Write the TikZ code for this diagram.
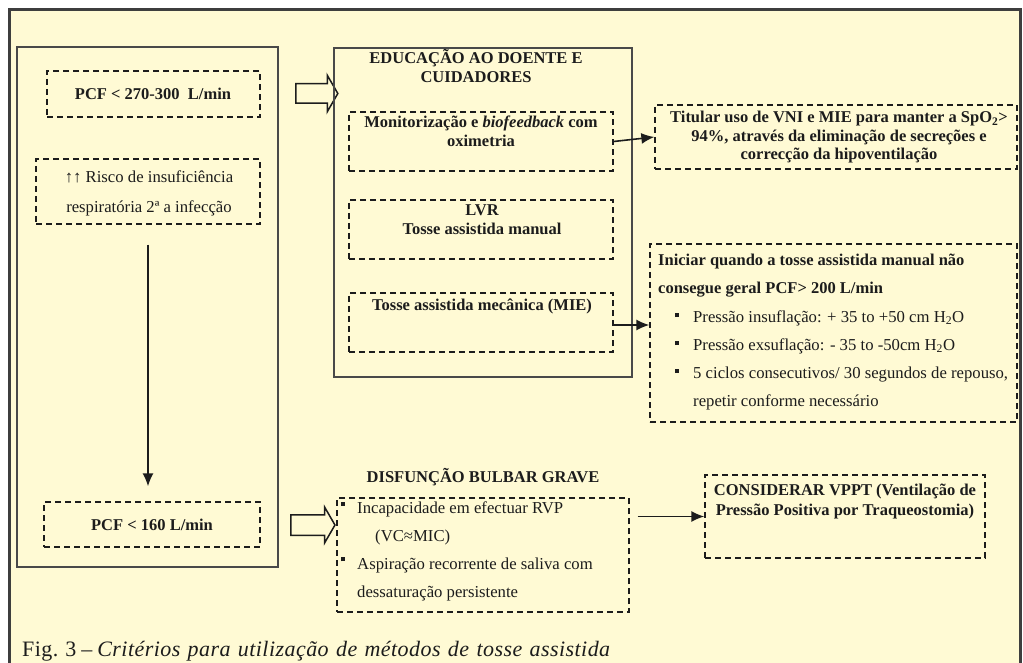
\documentclass[tikz,border=0pt]{standalone}
\usepackage{fontspec}
\setmainfont{Liberation Serif}
\newfontfamily\capfont[LetterSpace=2]{Liberation Serif}
\usetikzlibrary{arrows.meta,shapes.arrows}
\definecolor{bg}{HTML}{FFFAD4}
\definecolor{ink}{HTML}{1C1C1C}
\newcommand{\sqb}{\rule[5pt]{4pt}{4pt}}
\newcommand{\sqs}{\rule[8pt]{4pt}{4pt}}
\tikzset{
  frameline/.style={draw=ink!85, line width=3pt},
  solidbox/.style={draw=ink!80, line width=1.5pt, inner sep=0pt},
  dbox/.style={draw=ink, line width=1.3pt, dash pattern=on 6pt off 4pt, inner sep=0pt},
  bold/.style={font=\fontsize{16.5}{19}\selectfont\bfseries, text=ink, inner sep=0pt, align=center},
  plain/.style={font=\fontsize{16.7}{28}\selectfont, text=ink, inner sep=0pt, align=left},
  arr/.style={-{Latex[length=13pt,width=11pt]}, line width=1.6pt, draw=ink},
  hollow/.style={shape=single arrow, draw=ink, line width=1.5pt, fill=bg, inner xsep=0pt,
    single arrow tip angle=120},
}
\begin{document}
\begin{tikzpicture}[x=1pt,y=-1pt]
\useasboundingbox (0,0) rectangle (1023,663);
\fill[white] (0,0) rectangle (1023,663);
\fill[bg] (9,10) rectangle (1020,663);
\draw[frameline] (9,663) -- (9,10) -- (1020,10) -- (1020,663);

% left column
\node[solidbox, minimum width=261pt, minimum height=520pt] (lbox) at (147.5,307) {};
\node[dbox, minimum width=213pt, minimum height=46pt] (pcf1) at (153.5,94) {};
\node[bold, anchor=base] (pcf1t) at (153,100) {PCF < 270-300\ \ L/min};
\node[dbox, minimum width=224pt, minimum height=65pt] (risco) at (148,191.5) {};
\node[plain, align=center, font=\fontsize{16.7}{30}\selectfont, anchor=base] (riscot) at (149,213) {↑↑ Risco de insuficiência\\respiratória 2ª a infecção};
\node[dbox, minimum width=216pt, minimum height=45pt] (pcf2) at (152,524.5) {};
\node[bold, anchor=base] (pcf2t) at (152,530) {PCF < 160 L/min};
\draw[arr, shorten <=20pt, shorten >=15pt] (risco.south) -- (risco.south |- pcf2.north);

% hollow arrows
\node[hollow, minimum height=42pt, inner ysep=9pt, single arrow head extend=8.5pt] (h1) at (314,93.5) {};
\node[hollow, minimum height=44pt, inner ysep=9.5pt, single arrow head extend=7.5pt] (h2) at (310,525) {};

% middle box
\node[solidbox, minimum width=298pt, minimum height=329pt] (mbox) at (483,212.5) {};
\node[bold, anchor=base] (edu) at (476,83) {EDUCAÇÃO AO DOENTE E\\CUIDADORES};
\node[dbox, minimum width=264pt, minimum height=59pt] (mon) at (481,141.5) {};
\node[bold, anchor=base] (mont) at (481,147) {Monitorização e \textit{biofeedback} com\\oximetria};
\node[dbox, minimum width=264pt, minimum height=59pt] (lvr) at (481,229.5) {};
\node[bold, anchor=base] (lvrt) at (482,235) {LVR\\Tosse assistida manual};
\node[dbox, minimum width=264pt, minimum height=59pt] (mie) at (481,322.5) {};
\node[bold, anchor=base] (miet) at (482,310) {Tosse assistida mecânica (MIE)};

% right column
\node[dbox, minimum width=362pt, minimum height=64pt] (tit) at (836,137) {};
\node[bold, font=\fontsize{16.5}{18.5}\selectfont\bfseries, anchor=base] (titt) at (839,160) {Titular uso de VNI e MIE para manter a SpO\textsubscript{2}>\\94\%, através da eliminação de secreções e\\correcção da hipoventilação};
\draw[arr] (mon.east) -- (tit.west);

\node[dbox, minimum width=367pt, minimum height=178pt] (ini) at (833.5,333) {};
\node[plain, font=\fontsize{16.5}{28}\selectfont\bfseries, anchor=base west] (init) at (658,293) {Iniciar quando a tosse assistida manual não\\consegue geral PCF> 200 L/min};
\node[plain, anchor=base west] (inib) at (675,406) {\sqb\hspace{14pt}Pressão insuflação: + 35 to +50 cm H\textsubscript{2}O\\
\sqb\hspace{14pt}Pressão exsuflação: - 35 to -50cm H\textsubscript{2}O\\
\sqb\hspace{14pt}5 ciclos consecutivos/ 30 segundos de repouso,\\
\hspace*{18pt}repetir conforme necessário};
\draw[arr] ([yshift=-2.5pt]mie.east) -- ([yshift=-2.5pt]mie.east -| ini.west);

% bottom row
\node[bold, anchor=base] (disf) at (483,482) {DISFUNÇÃO BULBAR GRAVE};
\node[dbox, minimum width=292pt, minimum height=114pt] (bulb) at (483,555) {};
\node[plain, font=\fontsize{16.7}{27.7}\selectfont, anchor=base west] (bulbt) at (341,597) {\sqs\hspace{12pt}Incapacidade em efectuar RVP\\
\hspace*{34pt}(VC≈MIC)\\
\sqs\hspace{12pt}Aspiração recorrente de saliva com\\
\hspace*{16pt}dessaturação persistente};
\node[dbox, minimum width=280pt, minimum height=83pt] (cons) at (845,516.5) {};
\node[bold, font=\fontsize{16.5}{20}\selectfont\bfseries, anchor=base] (const) at (845,515) {CONSIDERAR VPPT (Ventilação de\\Pressão Positiva por Traqueostomia)};
\draw[arr, shorten <=8pt] (bulb.east |- cons.west) -- (cons.west);

% caption
\node[anchor=base west, inner sep=0pt, text=ink, font=\capfont\fontsize{22}{26}\selectfont] (cap) at (22,656) {\makebox[588pt][s]{Fig.\hspace{7pt}3\hspace{5pt}–\hspace{5pt}\itshape Critérios para utilização de métodos de tosse assistida}};
\end{tikzpicture}
\end{document}
